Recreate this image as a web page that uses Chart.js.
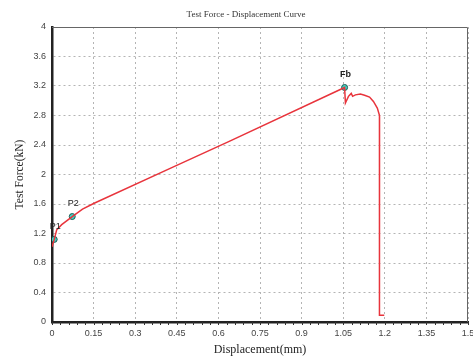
<!DOCTYPE html>
<html>
<head>
<meta charset="utf-8">
<script src="https://cdn.jsdelivr.net/npm/chart.js@4/dist/chart.umd.min.js"></script>
<style>
  html, body { margin: 0; padding: 0; background: #fff; }
  canvas { display: block; }
</style>
</head>
<body>
<canvas id="curve" width="473" height="356"></canvas>
<script>
// displacement (mm) and test force (kN)
const dispX = [0.0, 0.008, 0.017, 0.035, 0.073, 0.11, 0.152, 0.43, 0.639, 1.055,
  1.058, 1.069, 1.079, 1.084, 1.094, 1.112, 1.127, 1.145, 1.159, 1.173, 1.181,
  1.182, 1.181, 1.180, 1.180, 1.198];
const forceY = [1.02, 1.12, 1.25, 1.32, 1.43, 1.53, 1.61, 2.09, 2.45, 3.18,
  2.97, 3.06, 3.10, 3.06, 3.08, 3.09, 3.075, 3.05, 2.99, 2.90, 2.80,
  1.50, 0.75, 0.40, 0.09, 0.09];

// marked points
const keyLabels = ['P1', 'P2', 'Fb'];
const keyX = [0.008, 0.073, 1.055];
const keyY = [1.12, 1.43, 3.18];

// tick labels
const xTicks = ['0', '0.15', '0.3', '0.45', '0.6', '0.75', '0.9', '1.05', '1.2', '1.35', '1.5'];
const yTicks = ['0', '0.4', '0.8', '1.2', '1.6', '2', '2.4', '2.8', '3.2', '3.6', '4'];

const tickFont = { family: 'Liberation Sans', size: 9 };

// title, frame, minor ticks and point labels
const extras = {
  id: 'extras',
  afterDraw(chart) {
    const ctx = chart.ctx;
    const a = chart.chartArea;
    const xs = chart.scales.x;
    ctx.save();
    // thin top/right frame
    ctx.strokeStyle = '#666';
    ctx.lineWidth = 1;
    ctx.beginPath();
    ctx.moveTo(a.left, a.top + 0.5);
    ctx.lineTo(a.right - 0.5, a.top + 0.5);
    ctx.lineTo(a.right - 0.5, a.bottom);
    ctx.stroke();
    // minor ticks under the x axis
    ctx.strokeStyle = '#333';
    for (let v = 0; v <= 1.5001; v += 0.03) {
      const px = Math.round(xs.getPixelForValue(v)) + 0.5;
      ctx.beginPath();
      ctx.moveTo(px, a.bottom);
      ctx.lineTo(px, a.bottom + 3);
      ctx.stroke();
    }
    // chart title
    ctx.fillStyle = '#333';
    ctx.font = '9px "Liberation Serif"';
    ctx.textAlign = 'center';
    ctx.textBaseline = 'middle';
    ctx.fillText('Test Force - Displacement Curve', 246, 15);
    // point labels
    const pts = chart.getDatasetMeta(1).data;
    pts.forEach((p, i) => {
      ctx.font = (i === 2 ? 'bold 9px' : '9px') + ' "Liberation Sans"';
      ctx.fillStyle = '#222';
      ctx.fillText(keyLabels[i], p.x + 1, p.y - 13);
    });
    ctx.restore();
  }
};

new Chart(document.getElementById('curve'), {
  type: 'scatter',
  data: {
    datasets: [{
      data: dispX.map((x, i) => ({ x: x, y: forceY[i] })),
      showLine: true,
      borderColor: '#e8343c',
      borderWidth: 1.5,
      pointRadius: 0,
      tension: 0
    }, {
      data: keyX.map((x, i) => ({ x: x, y: keyY[i] })),
      showLine: false,
      pointRadius: 3,
      pointBackgroundColor: '#3fd0c0',
      pointBorderColor: '#1f5a55',
      pointBorderWidth: 1
    }]
  },
  options: {
    responsive: false,
    animation: false,
    layout: { padding: { top: 27, right: 4, left: 0, bottom: 0 } },
    plugins: {
      legend: { display: false },
      tooltip: { enabled: false },
      title: { display: false }
    },
    scales: {
      x: {
        type: 'linear',
        min: 0,
        max: 1.5,
        afterFit(s) { s.height = 34; s.paddingRight = 0; s.paddingLeft = 0; },
        afterBuildTicks(s) { s.ticks = xTicks.map(t => ({ value: parseFloat(t) })); },
        ticks: {
          font: tickFont,
          color: '#444',
          padding: 6,
          maxRotation: 0,
          autoSkip: false,
          callback: (v, i) => xTicks[i]
        },
        grid: { color: '#b4b4b4', drawTicks: false, lineWidth: 1 },
        border: { color: '#222', width: 2.5, dash: [2, 3] },
        title: {
          display: true,
          text: 'Displacement(mm)',
          color: '#222',
          font: { family: 'Liberation Serif', size: 12, lineHeight: 1 },
          padding: { top: 0, bottom: 0 }
        }
      },
      y: {
        min: 0,
        max: 4,
        afterFit(s) { s.width = 52; s.paddingTop = 0; s.paddingBottom = 0; },
        afterBuildTicks(s) { s.ticks = yTicks.map(t => ({ value: parseFloat(t) })); },
        ticks: {
          font: tickFont,
          color: '#444',
          padding: 6,
          autoSkip: false,
          callback: (v, i) => yTicks[i]
        },
        grid: { color: '#b4b4b4', drawTicks: false, lineWidth: 1 },
        border: { color: '#222', width: 2.5, dash: [2, 3] },
        title: {
          display: true,
          text: 'Test Force(kN)',
          color: '#222',
          font: { family: 'Liberation Serif', size: 11.5, lineHeight: 1 },
          padding: { top: 14, bottom: 0 }
        }
      }
    }
  },
  plugins: [extras]
});
</script>
</body>
</html>
